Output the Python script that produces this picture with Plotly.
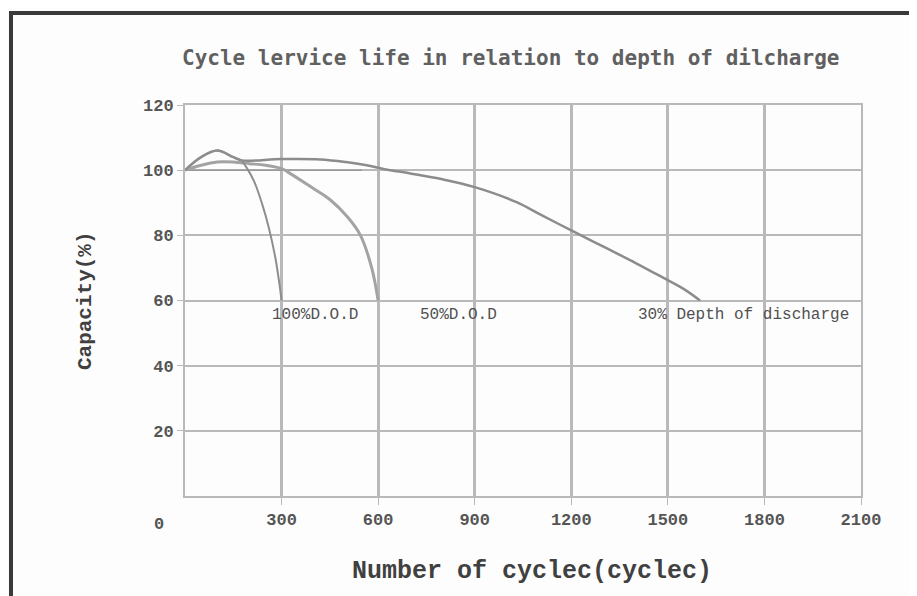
import plotly.graph_objects as go

# ---- data ----
x_tick_vals = [300, 600, 900, 1200, 1500, 1800, 2100]
x_tick_text = ["300", "600", "900", "1200", "1500", "1800", "2100"]
origin_label = "0"
y_tick_vals = [20, 40, 60, 80, 100, 120]
y_tick_text = ["20", "40", "60", "80", "100", "120"]

cycles_100 = [0, 50, 100, 150, 175, 190, 215, 240, 260, 280, 292, 300]
cap_100 = [100, 104, 106, 104, 103, 101, 96.5, 89.5, 82.5, 73.5, 66, 60]

cycles_50 = [0, 50, 100, 150, 200, 250, 300, 320, 392, 450, 505, 545, 580, 600]
cap_50 = [100, 101.5, 102.5, 102.5, 102, 101.5, 100.5, 99.4, 94.8, 91, 85.6, 80, 70, 60]

cycles_30 = [0, 50, 100, 150, 175, 300, 420, 500, 560, 620, 700, 800, 900, 1030,
             1100, 1200, 1300, 1400, 1485, 1550, 1600]
cap_30 = [100, 104, 106, 104, 103, 103.4, 103.3, 102.5, 101.6, 100.3, 99, 97.2, 94.8, 90.2,
          86.6, 81.5, 76.5, 71.5, 67, 63.5, 60]

baseline_x = [0, 550]
baseline_y = [100, 100]

labels = ["100%D.O.D", "50%D.O.D", "30% Depth of discharge"]
label_x = [300, 600, 2100]
label_y = [55.5, 55.5, 55.5]

title_text = "Cycle lervice life in relation to depth of dilcharge"
x_title = "Number of cyclec(cyclec)"
y_title = "Capacity(%)"

GRID = "#b9b9b9"
TXT = "#555555"

fig = go.Figure()
fig.add_trace(go.Scatter(x=baseline_x, y=baseline_y, mode="lines",
                         line=dict(color="#9a9a9a", width=1.5), showlegend=False, hoverinfo="skip"))
fig.add_trace(go.Scatter(x=cycles_50, y=cap_50, mode="lines", line_shape="spline",
                         line=dict(color="#a3a3a3", width=3), showlegend=False, name="50%"))
fig.add_trace(go.Scatter(x=cycles_30, y=cap_30, mode="lines", line_shape="spline",
                         line=dict(color="#8c8c8c", width=2.5), showlegend=False, name="30%"))
fig.add_trace(go.Scatter(x=cycles_100, y=cap_100, mode="lines", line_shape="spline",
                         line=dict(color="#8e8e8e", width=2), showlegend=False, name="100%"))

anchors = ["left", "left", "right"]
shifts = [-12, 40, -10]
for t, xv, yv, a, s in zip(labels, label_x, label_y, anchors, shifts):
    fig.add_annotation(x=xv, y=yv, xref="x", yref="y", text=t, showarrow=False,
                       xanchor=a, yanchor="middle", xshift=s,
                       font=dict(family="Liberation Mono", size=16, color="#505050"))

fig.add_annotation(x=0, y=0, xref="x", yref="y", text=origin_label, showarrow=False,
                   xanchor="center", yanchor="top", xshift=-26, yshift=-17,
                   font=dict(family="Liberation Mono", size=17, color=TXT, weight="bold"))

fig.add_annotation(x=0.482, y=1.12, xref="paper", yref="paper", text=title_text, showarrow=False,
                   xanchor="center", yanchor="middle",
                   font=dict(family="DejaVu Sans Mono", size=21, color="#606060", weight="bold"))
fig.add_annotation(x=0.513, y=-0.192, xref="paper", yref="paper", text=x_title, showarrow=False,
                   xanchor="center", yanchor="middle",
                   font=dict(family="Liberation Mono", size=25, color="#404040", weight="bold"))
fig.add_annotation(x=-0.148, y=0.501, xref="paper", yref="paper", text=y_title, showarrow=False,
                   textangle=-90, xanchor="center", yanchor="middle",
                   font=dict(family="Liberation Mono", size=21, color="#404040", weight="bold"))

# outer dark frame
fig.add_shape(type="rect", xref="paper", yref="paper", x0=-0.2574, y0=-0.35, x1=1.2, y1=1.2353,
              line=dict(color="#3a3a3a", width=4), fillcolor="rgba(0,0,0,0)", layer="below")

fig.update_layout(
    width=909, height=588, autosize=False,
    margin=dict(l=177, r=56, t=97, b=100),
    paper_bgcolor="#fdfdfd", plot_bgcolor="#fdfdfd",
    showlegend=False,
)
fig.update_xaxes(range=[0, 2100], tickvals=x_tick_vals, ticktext=x_tick_text,
                 showgrid=True, gridcolor=GRID, gridwidth=3, zeroline=False,
                 showline=True, linecolor=GRID, linewidth=2, mirror=True,
                 ticks="outside", ticklen=7, tickcolor=GRID,
                 tickfont=dict(family="Liberation Mono", size=17, color=TXT, weight="bold"))
fig.update_yaxes(range=[0, 120], tickvals=y_tick_vals, ticktext=y_tick_text,
                 showgrid=True, gridcolor=GRID, gridwidth=2, zeroline=False,
                 showline=True, linecolor=GRID, linewidth=2, mirror=True,
                 ticks="outside", ticklen=6, tickcolor=GRID,
                 tickfont=dict(family="Liberation Mono", size=17, color=TXT, weight="bold"))

fig.write_html("out.html")
